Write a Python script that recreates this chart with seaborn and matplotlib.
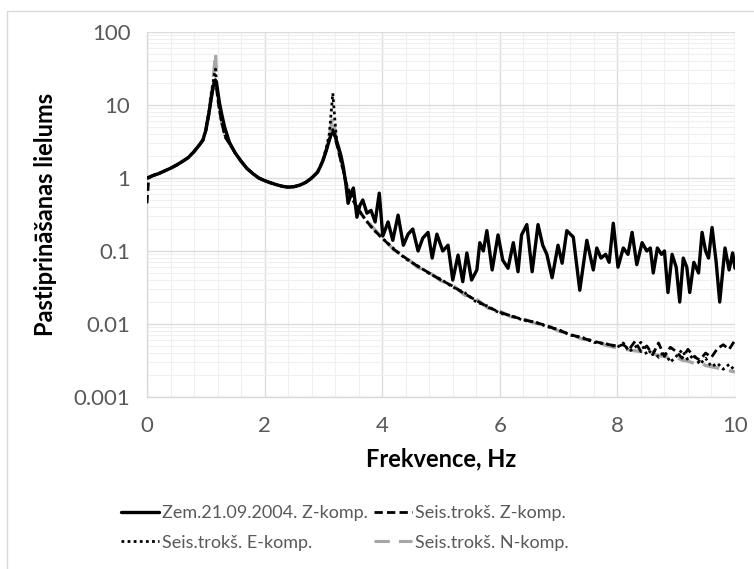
import numpy as np
import pandas as pd
import matplotlib
matplotlib.use("Agg")
import matplotlib.pyplot as plt
import seaborn as sns
from matplotlib.ticker import MultipleLocator, LogLocator, FixedLocator, FixedFormatter, NullFormatter
from matplotlib.patches import Rectangle
from matplotlib.lines import Line2D

# ---------------- data ----------------
series_names = ["Zem.21.09.2004. Z-komp.", "Seis.trokš. Z-komp.",
                "Seis.trokš. E-komp.", "Seis.trokš. N-komp."]

# Earthquake, Z component
freq_eq = [0.0, 0.1, 0.2, 0.3, 0.4, 0.5, 0.6, 0.7, 0.8, 0.9, 0.95, 1.0, 1.05, 1.08, 1.11,
           1.14, 1.16, 1.18, 1.20, 1.23, 1.27, 1.32, 1.4, 1.5, 1.6, 1.7, 1.8, 1.9, 2.0,
           2.1, 2.2, 2.3, 2.4, 2.5, 2.6, 2.7, 2.8, 2.9, 2.95, 3.0, 3.05, 3.1, 3.13, 3.16,
           3.19, 3.22, 3.26, 3.30, 3.34, 3.38, 3.42, 3.47, 3.51, 3.57, 3.62, 3.67, 3.74,
           3.81, 3.88, 3.95, 4.01, 4.10, 4.18, 4.27, 4.36, 4.44, 4.52, 4.61, 4.69, 4.78,
           4.85, 4.93, 5.03, 5.12, 5.20, 5.29, 5.37, 5.44, 5.52, 5.61, 5.66, 5.72, 5.78,
           5.87, 5.97, 6.05, 6.14, 6.23, 6.31, 6.37, 6.46, 6.55, 6.65, 6.73, 6.80, 6.89,
           6.99, 7.06, 7.14, 7.25, 7.36, 7.48, 7.59, 7.65, 7.72, 7.80, 7.86, 7.93, 8.01,
           8.10, 8.18, 8.25, 8.33, 8.42, 8.50, 8.56, 8.61, 8.68, 8.75, 8.80, 8.86, 8.93,
           9.00, 9.06, 9.12, 9.18, 9.23, 9.30, 9.38, 9.44, 9.50, 9.55, 9.61, 9.68, 9.74,
           9.83, 9.90, 9.96, 10.0]
val_eq = [1.0, 1.08, 1.15, 1.25, 1.36, 1.5, 1.68, 1.9, 2.3, 2.9, 3.3, 4.5, 7.5, 10.5, 15,
          20, 22, 20, 16, 11, 7.5, 5.0, 3.1, 2.2, 1.7, 1.35, 1.15, 1.0, 0.92,
          0.86, 0.81, 0.77, 0.75, 0.76, 0.8, 0.87, 1.0, 1.2, 1.45, 1.8, 2.4, 3.3, 3.9, 4.2,
          4.0, 3.3, 2.6, 2.0, 1.4, 0.85, 0.45, 0.6, 0.73, 0.29, 0.42, 0.5, 0.33,
          0.36, 0.25, 0.62, 0.16, 0.25, 0.14, 0.31, 0.12, 0.17, 0.20, 0.10, 0.15, 0.18,
          0.08, 0.17, 0.10, 0.12, 0.04, 0.088, 0.038, 0.094, 0.04, 0.055, 0.13, 0.10, 0.19,
          0.055, 0.166, 0.075, 0.058, 0.13, 0.052, 0.166, 0.23, 0.052, 0.23, 0.12, 0.09, 0.043,
          0.12, 0.068, 0.19, 0.155, 0.029, 0.14, 0.055, 0.11, 0.08, 0.09, 0.07, 0.24, 0.06,
          0.11, 0.09, 0.18, 0.065, 0.13, 0.10, 0.11, 0.05, 0.11, 0.09, 0.10, 0.027, 0.09,
          0.06, 0.02, 0.08, 0.06, 0.027, 0.07, 0.05, 0.18, 0.10, 0.08, 0.21, 0.07, 0.02,
          0.11, 0.055, 0.094, 0.058]

# Seismic noise (shared frequency grid)
freq_noise = [0.0, 0.03, 0.1, 0.2, 0.3, 0.4, 0.5, 0.6, 0.7, 0.8, 0.9, 0.95, 1.0, 1.05, 1.08,
              1.11, 1.14, 1.165, 1.19, 1.21, 1.24, 1.28, 1.33, 1.4, 1.5, 1.6, 1.7, 1.8, 1.9,
              2.0, 2.1, 2.2, 2.3, 2.4, 2.5, 2.6, 2.7, 2.8, 2.9, 2.95, 3.0, 3.05, 3.1, 3.13,
              3.16, 3.19, 3.22, 3.26, 3.3, 3.35, 3.4, 3.5, 3.6, 3.7, 3.8, 3.9, 4.0, 4.2, 4.4,
              4.6, 4.8, 5.0, 5.2, 5.4, 5.6, 5.8, 6.0, 6.2, 6.4, 6.6, 6.8, 7.0, 7.2, 7.4, 7.6,
              7.8, 8.0, 8.1, 8.2, 8.3, 8.4, 8.5, 8.6, 8.7, 8.8, 8.9, 9.0, 9.1, 9.2, 9.3, 9.4,
              9.5, 9.6, 9.7, 9.8, 9.9, 10.0]
val_noise_z = [0.45, 1.0, 1.08, 1.15, 1.25, 1.36, 1.5, 1.68, 1.9, 2.3, 2.9, 3.3, 4.4, 7.2, 10.5,
               15, 20, 22, 15, 11, 8.0, 5.3, 3.6, 3.0, 2.2, 1.7, 1.35, 1.15, 1.0,
               0.92, 0.86, 0.81, 0.77, 0.75, 0.76, 0.8, 0.87, 1.0, 1.2, 1.45, 1.8, 2.4, 3.3, 4.0,
               4.6, 3.8, 3.0, 2.3, 1.7, 1.15, 0.75, 0.5, 0.36, 0.28, 0.22, 0.18, 0.15, 0.105, 0.08,
               0.062, 0.05, 0.04, 0.033, 0.026, 0.021, 0.017, 0.0145, 0.0128, 0.0115, 0.0105, 0.0095,
               0.0082, 0.0072, 0.0064, 0.0058, 0.0053, 0.005, 0.0052, 0.0045, 0.0058, 0.0042, 0.005,
               0.0038, 0.0055, 0.0036, 0.0048, 0.0042, 0.0034, 0.0045, 0.0036, 0.0032, 0.004,
               0.0035, 0.0046, 0.0052, 0.0045, 0.006]
val_noise_e = [1.0, 1.0, 1.08, 1.15, 1.25, 1.36, 1.5, 1.68, 1.9, 2.3, 2.9, 3.3, 4.6, 7.8, 11.5,
               17, 25, 31, 17, 12, 8.0, 5.3, 3.8, 3.0, 2.2, 1.7, 1.35, 1.15, 1.0,
               0.92, 0.86, 0.81, 0.77, 0.75, 0.76, 0.8, 0.87, 1.0, 1.2, 1.45, 1.85, 2.6, 4.0, 7.5,
               14.5, 7.0, 3.6, 2.4, 1.7, 1.15, 0.78, 0.52, 0.37, 0.28, 0.22, 0.18, 0.15, 0.107, 0.078,
               0.063, 0.049, 0.041, 0.032, 0.027, 0.02, 0.0175, 0.014, 0.013, 0.0112, 0.0107, 0.0092,
               0.0084, 0.007, 0.0066, 0.0056, 0.0054, 0.0048, 0.0055, 0.0042, 0.0048, 0.0056, 0.0038,
               0.0045, 0.0035, 0.0042, 0.003, 0.0036, 0.0044, 0.0032, 0.0038, 0.0028, 0.0034,
               0.0026, 0.0029, 0.0024, 0.0028, 0.0023]
val_noise_n = [1.0, 1.0, 1.08, 1.15, 1.25, 1.36, 1.5, 1.68, 1.9, 2.3, 2.9, 3.3, 4.6, 7.8, 12,
               18, 30, 52, 18, 12, 8.0, 5.3, 3.8, 3.0, 2.2, 1.7, 1.35, 1.15, 1.0,
               0.92, 0.86, 0.81, 0.77, 0.75, 0.76, 0.8, 0.87, 1.0, 1.2, 1.45, 1.85, 2.5, 3.6, 5.2,
               6.9, 5.0, 3.3, 2.3, 1.7, 1.15, 0.77, 0.51, 0.36, 0.29, 0.23, 0.185, 0.155, 0.103, 0.082,
               0.06, 0.051, 0.039, 0.034, 0.025, 0.022, 0.0165, 0.015, 0.0125, 0.0118, 0.0102, 0.0097,
               0.008, 0.0074, 0.0062, 0.006, 0.0051, 0.0047, 0.0046, 0.0044, 0.0043, 0.0042, 0.004,
               0.0039, 0.0037, 0.0036, 0.0034, 0.0035, 0.0032, 0.0031, 0.0029, 0.003, 0.0027,
               0.0026, 0.0025, 0.0024, 0.0023, 0.0022]

x_ticks = [0, 2, 4, 6, 8, 10]
y_ticks = [0.001, 0.01, 0.1, 1, 10, 100]
y_tick_labels = ["0.001", "0.01", "0.1", "1", "10", "100"]
x_label = "Frekvence, Hz"
y_label = "Pastiprināšanas lielums"

# ---------------- plotting ----------------
sns.set_theme(style="white")
plt.rcParams["font.family"] = ["Lato", "DejaVu Sans"]

fig = plt.figure(figsize=(7.54, 5.69), dpi=100)
ax = fig.add_axes([147 / 754, 1 - 397 / 569, (735 - 147) / 754, (397 - 32) / 569])

# outer chart frame
fig.patches.append(Rectangle((7 / 754, -0.05), 1.2, 1 - 11 / 569 + 0.05,
                             transform=fig.transFigure, fill=False,
                             edgecolor="#d9d9d9", linewidth=1.0, zorder=0))

sns.lineplot(x=freq_noise, y=val_noise_n, ax=ax, color="#a6a6a6", linewidth=2.4,
             linestyle=(0, (5, 3)), estimator=None, sort=False, zorder=3)
sns.lineplot(x=freq_noise, y=val_noise_e, ax=ax, color="black", linewidth=2.0,
             linestyle=(0, (1, 1.2)), estimator=None, sort=False, zorder=4)
sns.lineplot(x=freq_noise, y=val_noise_z, ax=ax, color="black", linewidth=2.0,
             linestyle=(0, (3, 1.5)), estimator=None, sort=False, zorder=5)
sns.lineplot(x=freq_eq, y=val_eq, ax=ax, color="black", linewidth=2.4,
             linestyle="-", estimator=None, sort=False, zorder=6)

ax.set_yscale("log")
ax.set_xlim(0, 10)
ax.set_ylim(0.001, 100)

ax.xaxis.set_major_locator(FixedLocator(x_ticks))
ax.xaxis.set_minor_locator(MultipleLocator(0.4))
ax.yaxis.set_major_locator(FixedLocator(y_ticks))
ax.yaxis.set_major_formatter(FixedFormatter(y_tick_labels))
ax.yaxis.set_minor_locator(LogLocator(base=10, subs=np.arange(2, 10), numticks=20))
ax.yaxis.set_minor_formatter(NullFormatter())

ax.grid(True, which="major", color="#dcdcdc", linewidth=1.0)
ax.grid(True, which="minor", color="#efefef", linewidth=0.8)
ax.set_axisbelow(True)

for side in ["top", "right"]:
    ax.spines[side].set_visible(False)
for side in ["left", "bottom"]:
    ax.spines[side].set_color("#d9d9d9")
    ax.spines[side].set_linewidth(1.0)

ax.tick_params(axis="both", which="major", length=6, width=1, color="#d9d9d9",
               labelsize=16, labelcolor="#595959", direction="out")
ax.tick_params(axis="y", which="major", pad=6)
ax.tick_params(axis="x", which="major", pad=8)
ax.tick_params(axis="both", which="minor", length=0)

ax.set_xlabel(x_label, fontsize=17, fontweight="bold", color="black", labelpad=8)
ax.set_ylabel(y_label, fontsize=17, fontweight="bold", color="black", labelpad=12)

handles = [
    Line2D([], [], color="black", linewidth=2.4, linestyle="-"),
    Line2D([], [], color="black", linewidth=2.0, linestyle=(0, (1, 1.2))),
    Line2D([], [], color="black", linewidth=2.0, linestyle=(0, (3, 1.5))),
    Line2D([], [], color="#a6a6a6", linewidth=2.2, linestyle=(0, (5, 3))),
]
labels = [series_names[0], series_names[2], series_names[1], series_names[3]]
fig.legend(handles, labels, loc="center", bbox_to_anchor=(345 / 754, 1 - 528 / 569),
           ncol=2, frameon=False, fontsize=13, handlelength=2.1, handletextpad=0.15,
           columnspacing=0.35, labelcolor="#595959", labelspacing=0.75)

fig.savefig("out.png", dpi=100)
